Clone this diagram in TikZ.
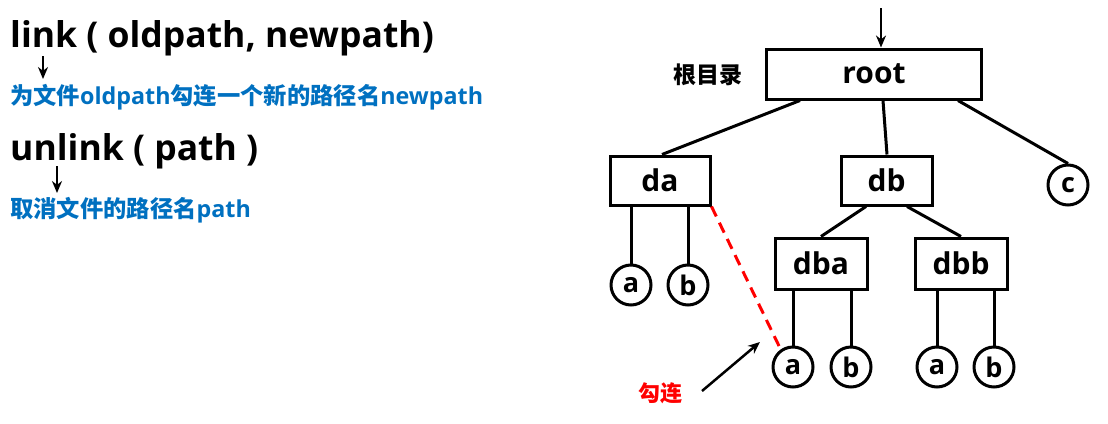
\documentclass[tikz,border=0pt]{standalone}
\usepackage{fontspec}
\setmainfont{Open Sans}
\newfontfamily\cjk{Noto Sans CJK SC}
\usetikzlibrary{arrows.meta}
\definecolor{myblue}{RGB}{0,112,192}
\definecolor{myred}{RGB}{255,0,0}
\tikzset{
  dirbox/.style={draw,line width=3pt,inner sep=0pt,font=\fontsize{30}{32}\selectfont\bfseries},
  leaf/.style={draw,circle,line width=3pt,minimum size=40pt,inner sep=0pt,font=\fontsize{27}{29}\selectfont\bfseries},
  edge/.style={line width=3pt},
  arr/.style={line width=2.5pt,-{Stealth[length=12pt,width=10pt]}},
  bigtxt/.style={anchor=base west,inner sep=0pt,font=\fontsize{35.5}{38}\selectfont\bfseries},
  bluetxt/.style={anchor=base west,inner sep=0pt,text=myblue,font=\fontsize{23.3}{25}\selectfont\bfseries},
}
\begin{document}
\begin{tikzpicture}[x=1pt,y=-1pt]
\useasboundingbox (0,0) rectangle (1108,423);
% left text
\node[bigtxt] (l1) at (10,47) {link ( oldpath, newpath)};
\coordinate (a1s) at (43,56);
\coordinate (a1e) at (43,79);
\draw[arr] (a1s) -- (a1e);
\node[bluetxt] (b1) at (10,104) {{\cjk\bfseries 为文件}oldpath{\cjk\bfseries 勾连一个新的路径名}newpath};
\node[bigtxt] (l2) at (10,160) {unlink ( path )};
\coordinate (a2s) at (57,166);
\coordinate (a2e) at (57,193);
\draw[arr] (a2s) -- (a2e);
\node[bluetxt] (b2) at (10,217) {{\cjk\bfseries 取消文件的路径名}path};
% tree
\node[dirbox,minimum width=215pt,minimum height=50pt] (root) at (874,74) {root};
\coordinate (rin) at (881,8);
\draw[arr] (rin) -- (root.north -| rin);
\node[font=\cjk\bfseries\fontsize{23}{25}\selectfont] (rl) at (708,75) {根目录};
\node[dirbox,minimum width=100pt,minimum height=49pt] (da) at (660,180.5) {da};
\node[dirbox,minimum width=91pt,minimum height=49pt] (db) at (886.5,180.5) {db};
\node[leaf] (c) at (1068,185) {c};
\draw[edge] (root.south -| 800,0) -- (da.north -| 662,0);
\draw[edge] (root.south -| 883,0) -- (db.north -| 887,0);
\draw[edge] (root.south -| 958,0) -- (c.north);
\node[leaf] (daa) at (631,285) {a};
\node[leaf] (dab) at (688,285) {b};
\draw[edge] (da.south -| daa) -- (daa.north);
\draw[edge] (da.south -| dab) -- (dab.north);
\node[dirbox,minimum width=92pt,minimum height=51pt] (dba) at (821,263.5) {dba};
\node[dirbox,minimum width=92pt,minimum height=51pt] (dbb) at (961,263.5) {dbb};
\draw[edge] (db.south -| 866,0) -- (dba.north);
\draw[edge] (db.south -| 907,0) -- (dbb.north);
\node[leaf] (dbaa) at (793,367) {a};
\node[leaf] (dbab) at (851,367) {b};
\node[leaf] (dbba) at (937,367) {a};
\node[leaf] (dbbb) at (994,367) {b};
\draw[edge] (dba.south -| dbaa) -- (dbaa.north);
\draw[edge] (dba.south -| dbab) -- (dbab.north);
\draw[edge] (dbb.south -| dbba) -- (dbba.north);
\draw[edge] (dbb.south -| dbbb) -- (dbbb.north);
\draw[myred,line width=3pt,dash pattern=on 11pt off 7pt] (da.south east) -- (dbaa.125);
\node[text=myred,font=\cjk\bfseries\fontsize{22}{24}\selectfont] (lk) at (660,393) {勾连};
\coordinate (lks) at (702,391);
\coordinate (lke) at (760,342);
\draw[arr] (lks) -- (lke);
\end{tikzpicture}
\end{document}
